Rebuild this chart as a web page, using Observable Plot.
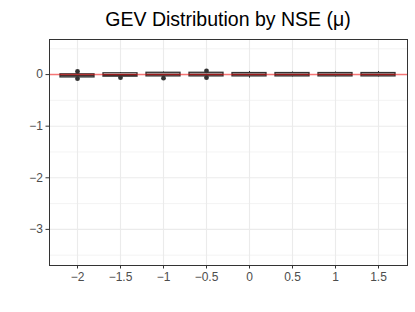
<!DOCTYPE html>
<html><head><meta charset="utf-8">
<script src="https://cdn.jsdelivr.net/npm/d3@7"></script>
<script src="https://cdn.jsdelivr.net/npm/@observablehq/plot@0.6"></script>
<style>
body{margin:0;background:#fff;font-family:"Liberation Sans",Arial,Helvetica,sans-serif;}
#wrap{width:415px;height:312px;overflow:hidden;}
#title{height:29px;padding-top:5px;line-height:29px;font-size:19.5px;color:#000;text-align:center;padding-left:41px;box-sizing:content-box;width:374px;white-space:nowrap;}
</style></head><body>
<div id="wrap"><div id="title">GEV Distribution by NSE (μ)</div><div id="chart"></div></div>
<script>
const nse = ["-2","-1.5","-1","-0.5","0","0.5","1","1.5"];
const q1 = [-0.055, -0.04, -0.035, -0.035, -0.035, -0.035, -0.035, -0.035];
const median = [-0.02, -0.01, 0.0, 0.0, 0.0, 0.0, 0.0, 0.0];
const q3 = [0.005, 0.025, 0.035, 0.035, 0.03, 0.03, 0.03, 0.03];
const whiskerLo = [-0.07, -0.05, -0.05, -0.05, -0.07, -0.045, -0.045, -0.045];
const whiskerHi = [0.02, 0.04, 0.05, 0.05, 0.06, 0.05, 0.05, 0.06];
const outlierNse = ["-2","-2","-1.5","-1","-0.5","-0.5"];
const outlierY = [0.06, -0.08, -0.06, -0.07, 0.07, -0.06];
const yTicks = [-3, -2, -1, 0];
const yMinor = [-3.5, -2.5, -1.5, -0.5, 0.5];
const refLine = [0];

const boxes = nse.map((k,i)=>({nse:k, q1:q1[i], med:median[i], q3:q3[i], lo:whiskerLo[i], hi:whiskerHi[i]}));
const outliers = outlierNse.map((k,i)=>({nse:k, y:outlierY[i]}));
const minus = d => String(d).replace("-", "\u2212");

const plot = Plot.plot({
  width:415, height:278, marginTop:5, marginLeft:49, marginRight:8, marginBottom:47,
  style:{fontFamily:'"Liberation Sans",Arial,Helvetica,sans-serif', fontSize:"12px", color:"#4D4D4D", background:"white"},
  x:{type:"band", domain:nse, paddingInner:0.2, paddingOuter:0.2, label:null},
  y:{domain:[-3.70,0.68], label:null},
  marks:[
    Plot.gridY(yMinor,{stroke:"#EBEBEB", strokeOpacity:1, strokeWidth:0.6}),
    Plot.gridY(yTicks,{stroke:"#EBEBEB", strokeOpacity:1, strokeWidth:1.1}),
    Plot.gridX(nse,{stroke:"#EBEBEB", strokeOpacity:1, strokeWidth:1.1}),
    Plot.ruleX(boxes,{x:"nse", y1:"lo", y2:"hi", stroke:"#333333", strokeWidth:1}),
    Plot.barY(boxes,{x:"nse", y1:"q1", y2:"q3", fill:"white", stroke:"#333333", strokeWidth:1.3}),
    Plot.tickY(boxes,{x:"nse", y:"med", stroke:"#333333", strokeWidth:2}),
    Plot.dot(outliers,{x:"nse", y:"y", r:2.4, fill:"#333333", stroke:"none"}),
    Plot.ruleY(refLine,{stroke:"red", strokeOpacity:0.5, strokeWidth:1.5}),
    Plot.frame({stroke:"#333333", strokeWidth:1}),
    Plot.axisY(yTicks,{tickSize:3.5, tickPadding:3, stroke:"#333333", tickFormat:minus}),
    Plot.axisX(nse,{tickSize:3.5, tickPadding:3, stroke:"#333333", tickFormat:minus})
  ]
});
document.getElementById("chart").appendChild(plot);
</script>
</body></html>
